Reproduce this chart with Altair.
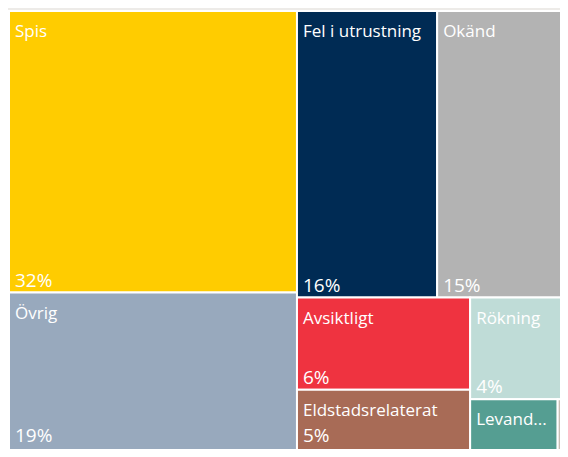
import altair as alt
import pandas as pd

categories = ["Spis", "Övrig", "Fel i utrustning", "Okänd", "Avsiktligt",
              "Eldstadsrelaterat", "Rökning", "Levande ljus", "Annat"]
shares = [32.5, 19.2, 16.1, 14.8, 6.4, 4.8, 3.9, 2.1, 0.2]
colors = ["#FFCC00", "#98A9BD", "#002B54", "#B3B3B3", "#EF3340",
          "#A86B56", "#BFDCD7", "#559E92", "#C8BEB5"]

W, H = 557, 448
VISIBLE_H = 437  # part of the tile area whose labels stay inside the window
PHI = (1 + 5 ** 0.5) / 2


def squarify(values, x0, y0, x1, y1, ratio=PHI):
    """d3-style squarified treemap layout (golden ratio)."""
    n = len(values)
    rects = [None] * n
    i0 = i1 = 0
    value = float(sum(values))
    while i0 < n:
        dx, dy = x1 - x0, y1 - y0
        sum_v = values[i1]
        i1 += 1
        min_v = max_v = sum_v
        alpha = max(dy / dx, dx / dy) / (value * ratio)
        beta = sum_v * sum_v * alpha
        min_ratio = max(max_v / beta, beta / min_v)
        while i1 < n:
            nv = values[i1]
            s = sum_v + nv
            mn, mx = min(min_v, nv), max(max_v, nv)
            beta = s * s * alpha
            new_ratio = max(mx / beta, beta / mn)
            if new_ratio > min_ratio:
                break
            sum_v, min_v, max_v, min_ratio = s, mn, mx, new_ratio
            i1 += 1
        row = range(i0, i1)
        if dx < dy:
            yb = y0 + dy * sum_v / value
            xx = x0
            for i in row:
                w = dx * values[i] / sum_v
                rects[i] = (xx, y0, xx + w, yb)
                xx += w
            y0 = yb
        else:
            xb = x0 + dx * sum_v / value
            yy = y0
            for i in row:
                h = dy * values[i] / sum_v
                rects[i] = (x0, yy, xb, yy + h)
                yy += h
            x0 = xb
        value -= sum_v
        i0 = i1
    return rects


rects = squarify(shares, 0, 0, W, H)
df = pd.DataFrame({
    "cat": categories,
    "share": shares,
    "x0": [r[0] for r in rects],
    "y0": [r[1] for r in rects],
    "x1": [r[2] for r in rects],
    "y1": [r[3] for r in rects],
})
df["w"] = df["x1"] - df["x0"]
df["h"] = df["y1"] - df["y0"]
df["py"] = df["y1"].clip(upper=VISIBLE_H)
df["pct"] = [f"{round(s)}%" for s in shares]

xs = alt.Scale(domain=[0, W])
ys = alt.Scale(domain=[0, H], reverse=True)
base = alt.Chart(df)

tiles = base.mark_rect(stroke="white", strokeWidth=2).encode(
    x=alt.X("x0:Q", scale=xs, axis=None),
    x2="x1:Q",
    y=alt.Y("y0:Q", scale=ys, axis=None),
    y2="y1:Q",
    color=alt.Color("cat:N", scale=alt.Scale(domain=categories, range=colors), legend=None),
)

font = "Open Sans"
names_big = base.transform_filter("datum.w >= 120").mark_text(
    align="left", baseline="alphabetic", dx=6, dy=26, color="white",
    font=font, fontSize=17,
).encode(x=alt.X("x0:Q", scale=xs), y=alt.Y("y0:Q", scale=ys), text="cat:N")

names_small = base.transform_filter("datum.w < 120 && datum.w > 30").mark_text(
    align="left", baseline="alphabetic", dx=6, dy=26, color="white",
    font=font, fontSize=17, limit=76, ellipsis="...",
).encode(x=alt.X("x0:Q", scale=xs), y=alt.Y("y0:Q", scale=ys), text="cat:N")

pcts = base.transform_filter("datum.h >= 65 && datum.w > 30").mark_text(
    align="left", baseline="alphabetic", dx=6, dy=-6, color="white",
    font=font, fontSize=19,
).encode(x=alt.X("x0:Q", scale=xs), y=alt.Y("py:Q", scale=ys), text="pct:N")

chart = alt.layer(tiles, names_big, names_small, pcts).properties(
    width=W, height=H,
    padding={"left": 1, "top": 3, "right": -6, "bottom": -10},
    autosize=alt.AutoSizeParams(type="none"),
    background="#EDEBE8",
).configure_view(stroke=None)

chart.save("out.html", embed_options={"renderer": "svg", "actions": False})
